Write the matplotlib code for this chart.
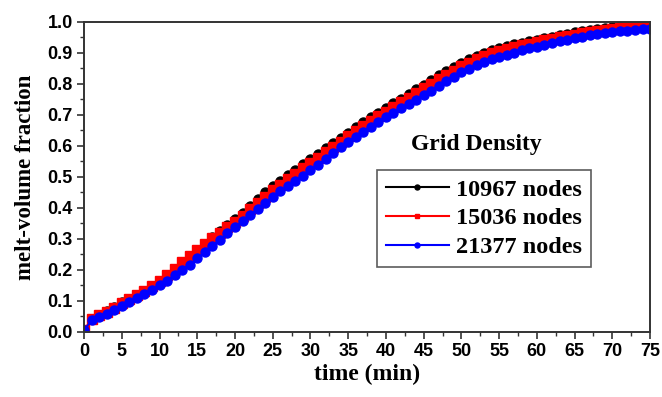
import matplotlib
matplotlib.use("Agg")
import matplotlib.pyplot as plt
from matplotlib.ticker import MultipleLocator

time_min = list(range(0, 76))

nodes_10967 = [
    0.005, 0.040, 0.055, 0.067, 0.080, 0.095, 0.107, 0.120, 0.133, 0.148,
    0.163, 0.180, 0.197, 0.215, 0.235, 0.258, 0.282, 0.305, 0.325, 0.345,
    0.365, 0.385, 0.405, 0.427, 0.450, 0.472, 0.488, 0.505, 0.522, 0.540,
    0.558, 0.575, 0.592, 0.609, 0.626, 0.643, 0.660, 0.676, 0.692, 0.707,
    0.722, 0.737, 0.752, 0.767, 0.782, 0.797, 0.812, 0.828, 0.843, 0.855,
    0.867, 0.880, 0.891, 0.901, 0.910, 0.917, 0.922, 0.927, 0.932, 0.937,
    0.942, 0.947, 0.952, 0.957, 0.962, 0.966, 0.970, 0.974, 0.977, 0.980,
    0.983, 0.986, 0.989, 0.991, 0.993, 0.995,
]
nodes_15036 = [
    0.005, 0.040, 0.053, 0.065, 0.078, 0.092, 0.105, 0.118, 0.132, 0.148,
    0.165, 0.184, 0.204, 0.225, 0.246, 0.265, 0.283, 0.302, 0.320, 0.338,
    0.356, 0.375, 0.395, 0.415, 0.436, 0.457, 0.475, 0.492, 0.510, 0.527,
    0.545, 0.562, 0.580, 0.597, 0.614, 0.631, 0.648, 0.664, 0.680, 0.695,
    0.710, 0.725, 0.740, 0.755, 0.770, 0.785, 0.800, 0.815, 0.830, 0.843,
    0.856, 0.868, 0.880, 0.890, 0.899, 0.906, 0.912, 0.918, 0.924, 0.930,
    0.935, 0.940, 0.945, 0.950, 0.955, 0.959, 0.963, 0.967, 0.971, 0.974,
    0.977, 0.980, 0.983, 0.986, 0.988, 0.990,
]
nodes_21377 = [
    0.005, 0.038, 0.048, 0.058, 0.070, 0.082, 0.095, 0.108, 0.121, 0.135,
    0.150, 0.165, 0.182, 0.199, 0.217, 0.237, 0.257, 0.277, 0.297, 0.318,
    0.338, 0.357, 0.377, 0.397, 0.417, 0.436, 0.453, 0.470, 0.487, 0.504,
    0.521, 0.539, 0.557, 0.576, 0.595, 0.613, 0.630, 0.646, 0.662, 0.678,
    0.693, 0.707, 0.721, 0.735, 0.749, 0.763, 0.778, 0.793, 0.808, 0.823,
    0.837, 0.849, 0.860, 0.870, 0.879, 0.887, 0.894, 0.901, 0.908, 0.914,
    0.920, 0.926, 0.932, 0.938, 0.943, 0.948, 0.952, 0.956, 0.960, 0.963,
    0.966, 0.969, 0.972, 0.974, 0.976, 0.978,
]

series = [
    ("10967 nodes", nodes_10967, "black", "o"),
    ("15036 nodes", nodes_15036, "#ff0000", "s"),
    ("21377 nodes", nodes_21377, "#0000ff", "o"),
]

serif = "Liberation Serif"
sans = "Liberation Sans"

fig = plt.figure(figsize=(6.62, 3.97), dpi=100)
ax = fig.add_axes([0.127, 0.164, 0.855, 0.781])

for label, values, color, marker in series:
    ax.plot(time_min, values, color=color, marker=marker, markersize=6.5,
            linewidth=1.5, label=label)

ax.set_xlim(0, 75)
ax.set_ylim(0, 1.0)
ax.xaxis.set_major_locator(MultipleLocator(5))
ax.xaxis.set_minor_locator(MultipleLocator(2.5))
ax.yaxis.set_major_locator(MultipleLocator(0.1))
ax.yaxis.set_minor_locator(MultipleLocator(0.05))
ax.yaxis.set_major_formatter(plt.FuncFormatter(lambda v, _: f"{v:.1f}"))

ax.tick_params(which="both", direction="out", top=False, right=False, color="#333333")
ax.tick_params(which="major", length=5, width=1.2, pad=3)
ax.tick_params(which="minor", length=3, width=1.0)
for lbl in ax.get_xticklabels() + ax.get_yticklabels():
    lbl.set_fontfamily(sans)
    lbl.set_fontweight("bold")
    lbl.set_fontsize(13)

for spine in ax.spines.values():
    spine.set_linewidth(1.4)
    spine.set_color("#333333")

ax.set_xlabel("time (min)", fontfamily=serif, fontweight="bold", fontsize=17, labelpad=3)
ax.set_ylabel("melt-volume fraction", fontfamily=serif, fontweight="bold", fontsize=16.5, labelpad=8)

ax.text(0.693, 0.603, "Grid Density", transform=ax.transAxes, ha="center", va="center",
        fontfamily=serif, fontweight="bold", fontsize=17)

leg = ax.legend(loc="lower left", bbox_to_anchor=(0.518, 0.21), borderaxespad=0,
                frameon=True, fancybox=False, edgecolor="#333333", markerscale=0.55,
                handlelength=2.6, handletextpad=0.3, labelspacing=0.28,
                borderpad=0.35, prop={"family": serif, "weight": "bold", "size": 17.5})
leg.get_frame().set_linewidth(1.2)

fig.savefig("out.png", dpi=100)
